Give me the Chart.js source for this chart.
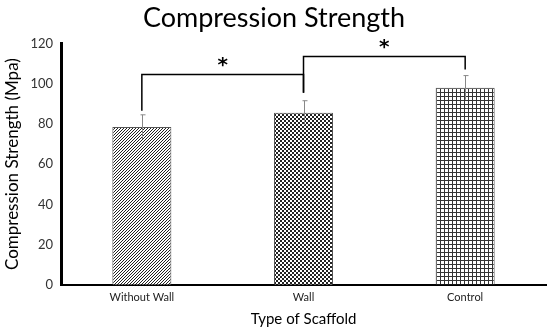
<!DOCTYPE html>
<html>
<head>
<meta charset="utf-8">
<script src="https://cdn.jsdelivr.net/npm/chart.js@4/dist/chart.umd.min.js"></script>
<style>
  html, body { margin: 0; padding: 0; background: #fff; }
  #wrap { width: 550px; height: 330px; }
</style>
</head>
<body>
<div id="wrap"><canvas id="chart" width="550" height="330"></canvas></div>
<script>
const categories = ["Without Wall", "Wall", "Control"];
const strength = [78.5, 85.5, 98];
const errors = [6, 6, 6];
// significance brackets: [from index, to index, bracket height, left leg bottom, right leg bottom]
const brackets = [
  [0, 1, 104.5, 86.5, 95.5],
  [1, 2, 113.5, 95.5, 107]
];

function makePattern(kind) {
  const c = document.createElement("canvas");
  const n = kind === "diag" ? 3 : 4;
  c.width = n; c.height = n;
  const g = c.getContext("2d");
  g.fillStyle = "#fff";
  g.fillRect(0, 0, n, n);
  g.fillStyle = "#222";
  if (kind === "diag") {
    for (let i = 0; i < n; i++) g.fillRect(i, n - 1 - i, 1, 1);
  } else if (kind === "check") {
    g.fillRect(0, 0, 2, 2);
    g.fillRect(2, 2, 2, 2);
  } else {
    g.fillStyle = "#333";
    g.fillRect(0, 0, 4, 1);
    g.fillRect(0, 0, 1, 4);
  }
  return document.getElementById("chart").getContext("2d").createPattern(c, "repeat");
}

const extras = {
  id: "extras",
  afterDatasetsDraw(chart) {
    const { ctx, scales } = chart;
    const y = scales.y;
    const meta = chart.getDatasetMeta(0);
    ctx.save();
    // error bars
    ctx.strokeStyle = "#888";
    ctx.lineWidth = 1;
    strength.forEach((v, i) => {
      const cx = Math.round(meta.data[i].x) + 0.5;
      const top = y.getPixelForValue(v + errors[i]);
      const bot = y.getPixelForValue(v - errors[i]);
      ctx.beginPath();
      ctx.moveTo(cx, bot); ctx.lineTo(cx, top);
      ctx.moveTo(cx - 2, top); ctx.lineTo(cx + 3, top);
      ctx.stroke();
    });
    // brackets
    ctx.strokeStyle = "#000";
    ctx.lineWidth = 1.5;
    ctx.fillStyle = "#000";
    ctx.font = "bold 20px 'DejaVu Sans'";
    ctx.textAlign = "center";
    ctx.textBaseline = "middle";
    brackets.forEach(b => {
      const x1 = meta.data[b[0]].x, x2 = meta.data[b[1]].x;
      const yh = y.getPixelForValue(b[2]);
      ctx.beginPath();
      ctx.moveTo(x1, y.getPixelForValue(b[3]));
      ctx.lineTo(x1, yh);
      ctx.lineTo(x2, yh);
      ctx.lineTo(x2, y.getPixelForValue(b[4]));
      ctx.stroke();
      ctx.fillText("*", (x1 + x2) / 2, yh - 9);
    });
    ctx.restore();
  }
};

new Chart(document.getElementById("chart"), {
  type: "bar",
  data: {
    labels: categories,
    datasets: [{
      data: strength,
      backgroundColor: [makePattern("diag"), makePattern("check"), makePattern("grid")],
      borderColor: "#555",
      borderWidth: 1,
      barPercentage: 0.73,
      categoryPercentage: 0.5
    }]
  },
  options: {
    responsive: false,
    animation: false,
    layout: { padding: { right: 4, top: 0, left: 2 } },
    plugins: {
      legend: { display: false },
      tooltip: { enabled: false },
      title: {
        display: true,
        text: "Compression Strength",
        color: "#000",
        font: { family: "Lato", size: 27, weight: "normal" },
        padding: { top: 2, bottom: 9 }
      }
    },
    scales: {
      x: {
        grid: { display: false, drawTicks: false },
        border: { color: "#000", width: 2 },
        ticks: { color: "#222", font: { family: "Lato", size: 11 }, padding: 6 },
        title: { display: true, text: "Type of Scaffold", color: "#000", font: { family: "Lato", size: 15 }, padding: { top: 0, bottom: 2 } }
      },
      y: {
        min: 0,
        max: 120,
        ticks: { stepSize: 20, color: "#333", font: { family: "Lato", size: 13 }, padding: 8 },
        grid: { display: false, drawTicks: false },
        border: { color: "#000", width: 3 },
        title: { display: true, text: "Compression Strength (Mpa)", color: "#000", font: { family: "Lato", size: 17 }, padding: { bottom: 0, top: 0 } }
      }
    }
  },
  plugins: [extras]
});
</script>
</body>
</html>
